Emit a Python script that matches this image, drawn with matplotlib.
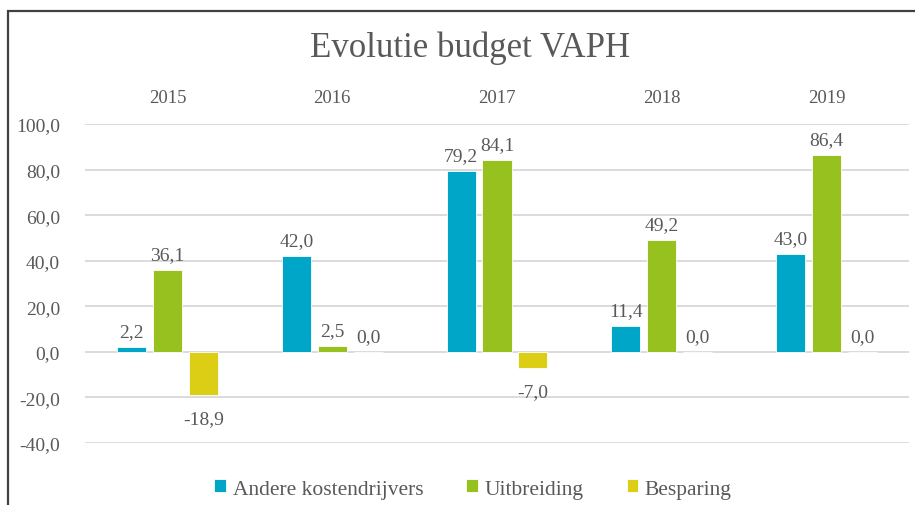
import numpy as np
import matplotlib.pyplot as plt
from matplotlib.patches import Rectangle

# data
years = ['2015', '2016', '2017', '2018', '2019']
andere = [2.2, 42.0, 79.2, 11.4, 43.0]
uitbreiding = [36.1, 2.5, 84.1, 49.2, 86.4]
besparing = [-18.9, 0.0, -7.0, 0.0, 0.0]
series_names = ['Andere kostendrijvers', 'Uitbreiding', 'Besparing']
colors = ['#00A6C8', '#96C11F', '#DCCE14']
yticks = [-40, -20, 0, 20, 40, 60, 80, 100]

plt.rcParams['font.family'] = ['Liberation Serif', 'DejaVu Serif']
txt = '#595959'

fig = plt.figure(figsize=(9.15, 5.06), dpi=100)
ax = fig.add_axes([85/915, 1-444/506, 824/915, 319/506])

x = np.arange(len(years))
w = 0.176
step = 0.218
for i, (vals, name, col) in enumerate(zip([andere, uitbreiding, besparing], series_names, colors)):
    pos = x + (i - 1) * step
    ax.bar(pos, vals, width=w, color=col, edgecolor='white', linewidth=0.6, label=name, zorder=3)
    for px, v in zip(pos, vals):
        lab = f'{v:.1f}'.replace('.', ',')
        if v < 0:
            ax.annotate(lab, (px, v), xytext=(0, -11), textcoords='offset points',
                        ha='center', va='top', fontsize=14, color=txt)
        else:
            ax.annotate(lab, (px, v), xytext=(0, 5), textcoords='offset points',
                        ha='center', va='bottom', fontsize=14, color=txt)

ax.set_xlim(-0.5, len(years) - 0.5)
ax.set_ylim(-40, 100)
ax.set_yticks(yticks)
ax.set_yticklabels([f'{t:.1f}'.replace('.', ',') for t in yticks], fontsize=14, color=txt)
ax.xaxis.tick_top()
ax.set_xticks(x)
ax.set_xticklabels(years, fontsize=13.5, color=txt)
ax.tick_params(axis='both', length=0)
ax.tick_params(axis='x', pad=13)
ax.tick_params(axis='y', pad=18)
ax.grid(axis='y', color='#D9D9D9', linewidth=1.3, zorder=0)
for s in ax.spines.values():
    s.set_visible(False)

fig.text(470/915, 1-48/506, 'Evolutie budget VAPH', ha='center', va='center',
         fontsize=25, color=txt)

fig.legend(loc='center', bbox_to_anchor=(473/915, 1-490/506), ncol=3, frameon=False,
           fontsize=15.5, handlelength=0.55, handleheight=0.55, handletextpad=0.3,
           columnspacing=2.0, labelcolor=txt)

# chart frame
fig.patches.append(Rectangle((8/915, -0.05), 1.1, 1 - 12/506 + 0.05, transform=fig.transFigure,
                             fill=False, edgecolor='#404040', linewidth=1.6))

fig.savefig('out.png', dpi=100)
